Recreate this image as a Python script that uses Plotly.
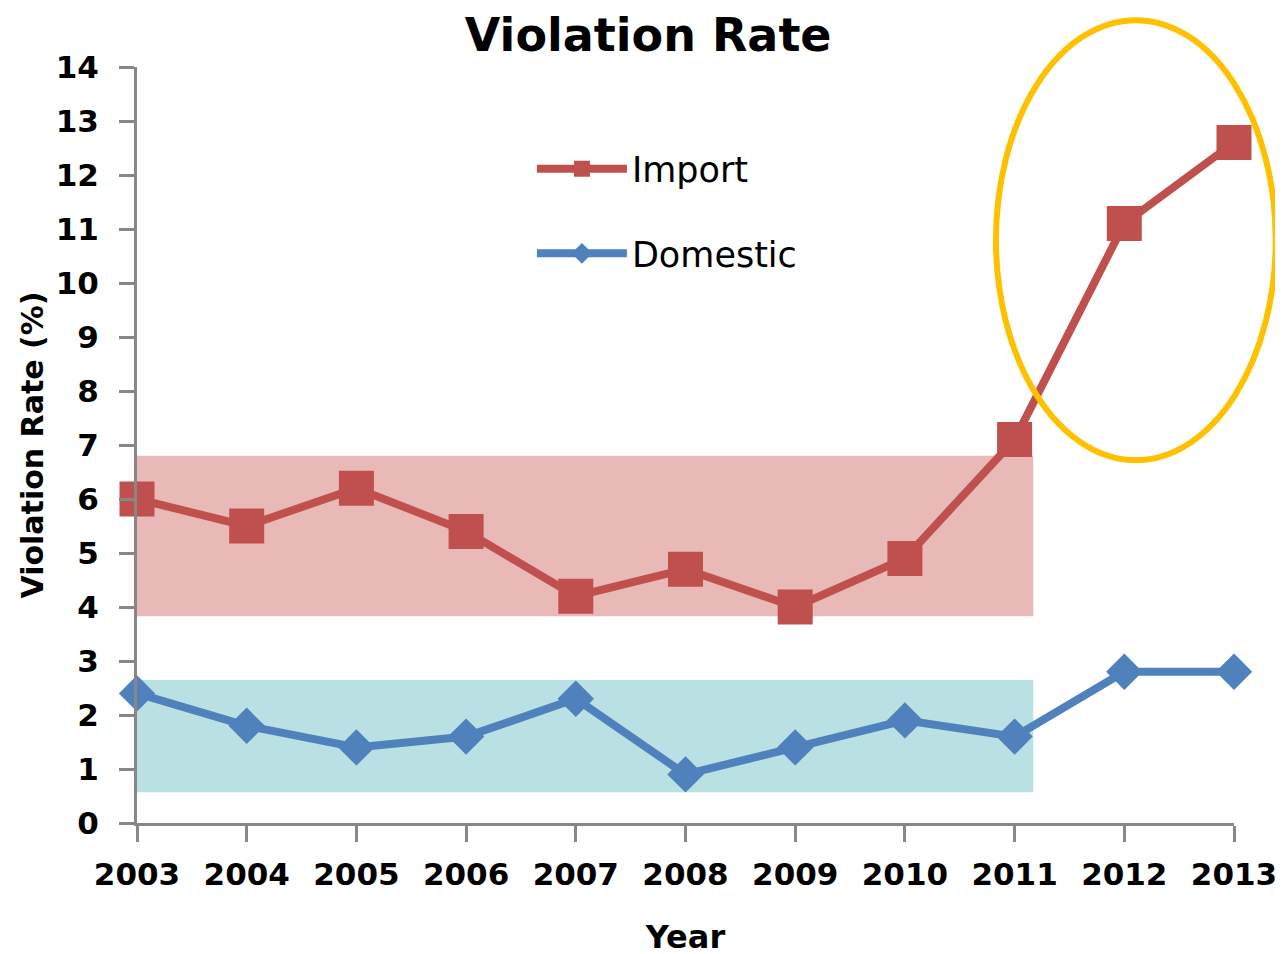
import plotly.graph_objects as go

years = [2003, 2004, 2005, 2006, 2007, 2008, 2009, 2010, 2011, 2012, 2013]
import_rate = [6.0, 5.5, 6.2, 5.4, 4.2, 4.7, 4.0, 4.9, 7.1, 11.1, 12.6]
domestic_rate = [2.4, 1.8, 1.4, 1.6, 2.3, 0.9, 1.4, 1.9, 1.6, 2.8, 2.8]
y_ticks = list(range(0, 15))

RED = "#C0504D"
BLUE = "#4F81BD"
AX = "#878787"
FONT = "DejaVu Sans"

fig = go.Figure()
fig.add_trace(go.Scatter(
    x=years, y=import_rate, name="Import", mode="lines+markers",
    line=dict(color=RED, width=8),
    marker=dict(symbol="square", size=35, color=RED),
    cliponaxis=False, legendgroup="a"))
fig.add_trace(go.Scatter(
    x=years, y=domestic_rate, name="Domestic", mode="lines+markers",
    line=dict(color=BLUE, width=8),
    marker=dict(symbol="diamond", size=28, color=BLUE),
    cliponaxis=False, legendgroup="b"))

# shaded bands (behind data)
fig.add_shape(type="rect", xref="x", yref="y", x0=2003, x1=2011.17, y0=3.83, y1=6.8,
              fillcolor="#E8B9B7", line_width=0, layer="below")
fig.add_shape(type="rect", xref="x", yref="y", x0=2003, x1=2011.17, y0=0.57, y1=2.65,
              fillcolor="#B9E0E3", line_width=0, layer="below")
# highlight ellipse
fig.add_shape(type="circle", xref="paper", yref="paper", x0=0.783, x1=1.038, y0=0.480, y1=1.062,
              line=dict(color="#FFC000", width=6), fillcolor="rgba(0,0,0,0)", layer="above")

fig.update_layout(
    width=1283, height=954,
    margin=dict(l=129, r=57, t=59, b=139),
    paper_bgcolor="white", plot_bgcolor="white",
    font=dict(family=FONT, color="black"),
    title=dict(text="<b>Violation Rate</b>", x=0.499, xref="container", xanchor="center",
               y=0.972, yref="container", yanchor="middle",
               font=dict(size=46, family=FONT, color="black")),
    legend=dict(x=0.36, y=0.904, xanchor="left", yanchor="top",
                font=dict(size=35, family=FONT), itemwidth=90,
                tracegroupgap=36, bgcolor="rgba(0,0,0,0)"),
    showlegend=True,
)
fig.update_xaxes(
    range=[2003, 2013], tickvals=years, ticktext=[str(y) for y in years],
    showgrid=False, zeroline=False, showline=True, linecolor=AX, linewidth=3,
    ticks="outside", ticklen=16, tickwidth=3, tickcolor=AX, ticklabelstandoff=6,
    tickfont=dict(size=31, family=FONT, color="black", weight="bold"),
    title=dict(text="<b>Year</b>", font=dict(size=32, family=FONT), standoff=35),
    automargin=False,
)
fig.update_yaxes(
    range=[0, 14], tickvals=y_ticks,
    showgrid=False, zeroline=False, showline=True, linecolor=AX, linewidth=3,
    ticks="outside", ticklen=15, tickwidth=3, tickcolor=AX, ticklabelstandoff=14,
    tickfont=dict(size=31, family=FONT, color="black", weight="bold"),
    title=dict(text="<b>Violation Rate (%)</b>", font=dict(size=30, family=FONT), standoff=4),
    automargin=False,
)

fig.write_html("out.html")
